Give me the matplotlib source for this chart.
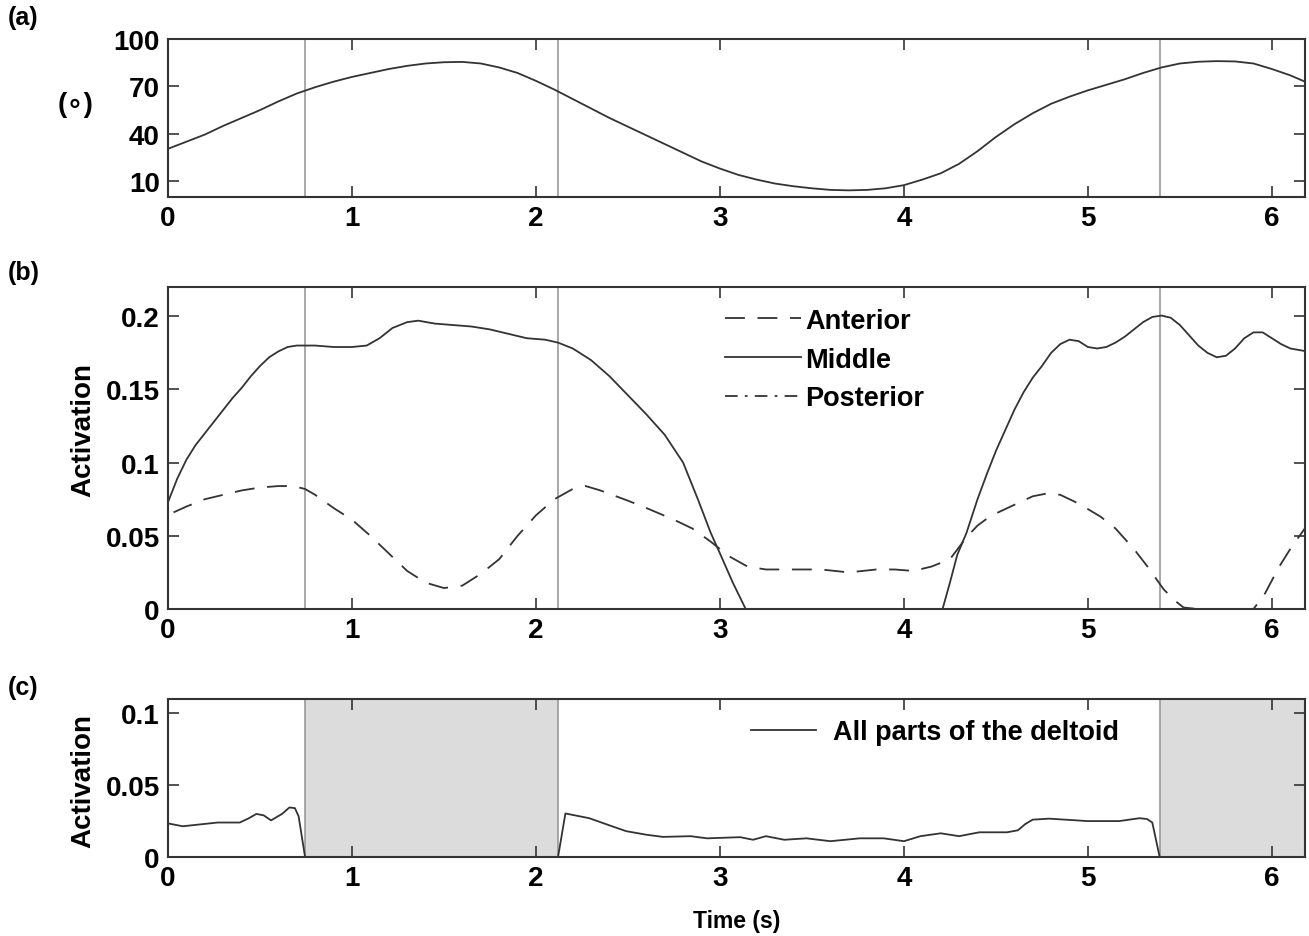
import numpy as np
import matplotlib
matplotlib.use("Agg")
import matplotlib.pyplot as plt

plt.rcParams['font.family'] = ['Liberation Sans', 'DejaVu Sans']
plt.rcParams['font.weight'] = 'bold'
plt.rcParams['font.size'] = 20

# %%
# events (s): vertical markers / shaded windows
events = [0.745, 2.12, 5.39]
shade = [(0.745, 2.12), (5.39, 6.18)]

# (a) joint angle (deg)
t_ang = [0.0, 0.1, 0.2, 0.3, 0.4, 0.5, 0.6, 0.7, 0.8, 0.9, 1.0, 1.1, 1.2, 1.3,
         1.4, 1.5, 1.6, 1.7, 1.8, 1.9, 2.0, 2.1, 2.2, 2.3, 2.4, 2.5, 2.6, 2.7,
         2.8, 2.9, 3.0, 3.1, 3.2, 3.3, 3.4, 3.5, 3.6, 3.7, 3.8, 3.9, 4.0, 4.1,
         4.2, 4.3, 4.4, 4.5, 4.6, 4.7, 4.8, 4.9, 5.0, 5.1, 5.2, 5.3, 5.4, 5.5,
         5.6, 5.7, 5.8, 5.9, 6.0, 6.1, 6.18]
angle = [30.5, 35, 39.5, 45, 50, 55, 60.5, 65.5, 69.5, 73, 76, 78.5, 81, 83,
         84.5, 85.3, 85.5, 84.5, 82, 78.5, 73.5, 68, 62, 56, 50, 44.5, 39, 33.5,
         28, 22.5, 18, 14, 11, 8.5, 6.8, 5.5, 4.5, 4.2, 4.5, 5.5, 7.5, 11,
         15, 21, 29, 38, 46, 53, 59, 63.5, 67.5, 71, 74.5, 78.5, 82, 84.5,
         85.6, 86, 85.8, 84.5, 81, 77, 73]

# (b) muscle activations
t_mid = [0.0, 0.05, 0.1, 0.15, 0.2, 0.25, 0.3, 0.35, 0.4, 0.45, 0.5, 0.55, 0.6,
         0.65, 0.7, 0.8, 0.9, 1.0, 1.08, 1.15, 1.22, 1.3, 1.36, 1.45, 1.55, 1.65,
         1.75, 1.85, 1.95, 2.05, 2.12, 2.2, 2.3, 2.4, 2.5, 2.6, 2.7, 2.8, 2.88,
         2.95, 3.0, 3.07, 3.14, 3.6, 4.21, 4.25, 4.29, 4.34, 4.4, 4.45, 4.5, 4.55,
         4.6, 4.65, 4.7, 4.75, 4.8, 4.85, 4.9, 4.95, 5.0, 5.05, 5.1, 5.15, 5.2,
         5.25, 5.3, 5.35, 5.4, 5.45, 5.5, 5.55, 5.6, 5.65, 5.7, 5.75, 5.8, 5.85,
         5.9, 5.95, 6.0, 6.05, 6.1, 6.19]
middle = [0.073, 0.089, 0.102, 0.112, 0.120, 0.128, 0.136, 0.144, 0.151, 0.159, 0.166, 0.172, 0.176,
          0.179, 0.180, 0.180, 0.179, 0.179, 0.180, 0.185, 0.192, 0.196, 0.197, 0.195, 0.194, 0.193,
          0.191, 0.188, 0.185, 0.184, 0.182, 0.178, 0.170, 0.159, 0.146, 0.133, 0.119, 0.100, 0.075,
          0.052, 0.038, 0.018, 0.0, 0.0, 0.0, 0.018, 0.037, 0.052, 0.075, 0.092, 0.108, 0.122,
          0.136, 0.148, 0.158, 0.166, 0.175, 0.181, 0.184, 0.183, 0.179, 0.178, 0.179, 0.182, 0.186,
          0.191, 0.196, 0.1995, 0.2005, 0.199, 0.194, 0.187, 0.180, 0.175, 0.172, 0.173, 0.178, 0.185,
          0.189, 0.189, 0.185, 0.181, 0.178, 0.176]

t_ant = [0.03, 0.1, 0.2, 0.3, 0.4, 0.5, 0.6, 0.68, 0.745, 0.8, 0.9, 1.0, 1.1, 1.2,
         1.3, 1.4, 1.5, 1.6, 1.7, 1.8, 1.9, 2.0, 2.1, 2.2, 2.27, 2.35, 2.5, 2.6,
         2.75, 2.85, 2.95, 3.05, 3.15, 3.25, 3.4, 3.55, 3.7, 3.85, 3.95, 4.05, 4.15,
         4.25, 4.34, 4.4, 4.47, 4.58, 4.7, 4.78, 4.85, 4.95, 5.07, 5.15, 5.25, 5.33,
         5.41, 5.47, 5.52, 5.6, 5.9, 5.96, 6.04, 6.1, 6.19]
anterior = [0.066, 0.070, 0.075, 0.078, 0.081, 0.083, 0.084, 0.084, 0.082, 0.078, 0.069, 0.061, 0.050, 0.038,
            0.026, 0.018, 0.0143, 0.016, 0.024, 0.034, 0.050, 0.064, 0.075, 0.082, 0.084, 0.081, 0.074, 0.069,
            0.061, 0.055, 0.046, 0.036, 0.029, 0.027, 0.027, 0.027, 0.025, 0.027, 0.027, 0.026, 0.029,
            0.034, 0.049, 0.057, 0.0635, 0.070, 0.077, 0.079, 0.078, 0.072, 0.063, 0.055, 0.041, 0.028,
            0.0137, 0.006, 0.001, 0.0, 0.0, 0.010, 0.029, 0.041, 0.057]

t_post = [0.0, 6.19]
posterior = [0.0, 0.0]

# (c) all parts of the deltoid
t_all = [0.0, 0.08, 0.27, 0.39, 0.44, 0.48, 0.52, 0.56, 0.62, 0.66, 0.69, 0.71, 0.745, 2.12, 2.16,
         2.29, 2.4, 2.49, 2.6, 2.69, 2.84, 2.93, 3.11, 3.18, 3.25, 3.35, 3.47, 3.6, 3.76,
         3.89, 4.0, 4.09, 4.2, 4.3, 4.41, 4.56, 4.62, 4.66, 4.7, 4.79, 5.0, 5.17,
         5.28, 5.32, 5.35, 5.39, 6.18]
all_parts = [0.0234, 0.0214, 0.024, 0.024, 0.027, 0.030, 0.029, 0.0255, 0.030, 0.0345, 0.034, 0.0283, 0.0, 0.0, 0.0303,
             0.027, 0.022, 0.018, 0.0155, 0.014, 0.0145, 0.013, 0.0138, 0.012, 0.0145, 0.012, 0.013, 0.011, 0.013,
             0.013, 0.011, 0.0145, 0.0165, 0.0145, 0.0172, 0.0172, 0.0186, 0.023, 0.026, 0.0267, 0.025, 0.025,
             0.027, 0.0265, 0.024, 0.0, 0.0]

# %%
lc = '#333333'
W, H = 1309, 937
fig = plt.figure(figsize=(W / 100, H / 100), dpi=100)

def px_axes(x0, y0, x1, y1):
    return fig.add_axes([x0 / W, 1 - y1 / H, (x1 - x0) / W, (y1 - y0) / H])

ax_a = px_axes(168, 40, 1305, 198)
ax_b = px_axes(168, 288, 1305, 610)
ax_c = px_axes(168, 700, 1305, 858)

for ax in (ax_a, ax_b, ax_c):
    ax.set_xlim(0, 6.18)
    ax.set_xticks(range(7))
    ax.tick_params(direction='in', top=True, right=True, length=8, width=1.2,
                   colors=lc, labelcolor='black', labelsize=20, pad=6)
    for s in ax.spines.values():
        s.set_color(lc)
        s.set_linewidth(1.5)

# (a)
for e in events:
    ax_a.axvline(e, color='#999999', lw=1.2, zorder=1)
ax_a.plot(t_ang, angle, color=lc, lw=1.3)
ax_a.set_ylim(0, 100)
ax_a.set_yticks([10, 40, 70, 100])
fig.text(76 / W, 1 - 105 / H, '(\u2218)', ha='center', va='center',
         fontsize=20, fontweight='bold')

# (b)
for e in events:
    ax_b.axvline(e, color='#999999', lw=1.2, zorder=1)
ax_b.plot(t_ant, anterior, color=lc, lw=1.3, dashes=(11, 7), label='Anterior')
ax_b.plot(t_mid, middle, color=lc, lw=1.3, label='Middle')
ax_b.plot(t_post, posterior, color=lc, lw=1.3, dashes=(7, 4, 1.5, 4), label='Posterior')
ax_b.set_ylim(0, 0.22)
ax_b.set_yticks([0, 0.05, 0.1, 0.15, 0.2])
ax_b.set_yticklabels(['0', '0.05', '0.1', '0.15', '0.2'])
ax_b.set_ylabel('Activation', fontsize=20, fontweight='bold')
ax_b.yaxis.set_label_coords(-0.063, 0.56)
ax_b.legend(loc='upper left', bbox_to_anchor=(0.49, 0.935), frameon=False,
            handlelength=2.8, handletextpad=0.15, labelspacing=0.47,
            borderaxespad=0, borderpad=0, prop={'weight': 'bold', 'size': 19.5})

# (c)
for a, b in shade:
    ax_c.axvspan(a, b, facecolor='#dcdcdc', edgecolor='#999999', lw=1.2, zorder=0)
ax_c.plot(t_all, all_parts, color=lc, lw=1.3, label='All parts of the deltoid')
ax_c.set_ylim(0, 0.11)
ax_c.set_yticks([0, 0.05, 0.1])
ax_c.set_yticklabels(['0', '0.05', '0.1'])
ax_c.set_ylabel('Activation', fontsize=20, fontweight='bold')
ax_c.yaxis.set_label_coords(-0.063, 0.49)
ax_c.set_xlabel('Time (s)', fontsize=16.5, fontweight='bold')
ax_c.xaxis.set_label_coords(0.5, -0.33)
ax_c.legend(loc='upper left', bbox_to_anchor=(0.513, 0.873), frameon=False,
            handlelength=2.4, handletextpad=0.6, borderaxespad=0, borderpad=0,
            prop={'weight': 'bold', 'size': 19.5})

for lbl, y in (('(a)', 18), ('(b)', 273), ('(c)', 688)):
    fig.text(8 / W, 1 - y / H, lbl, ha='left', va='center', fontsize=18, fontweight='bold')

fig.savefig('out.png', dpi=100)
